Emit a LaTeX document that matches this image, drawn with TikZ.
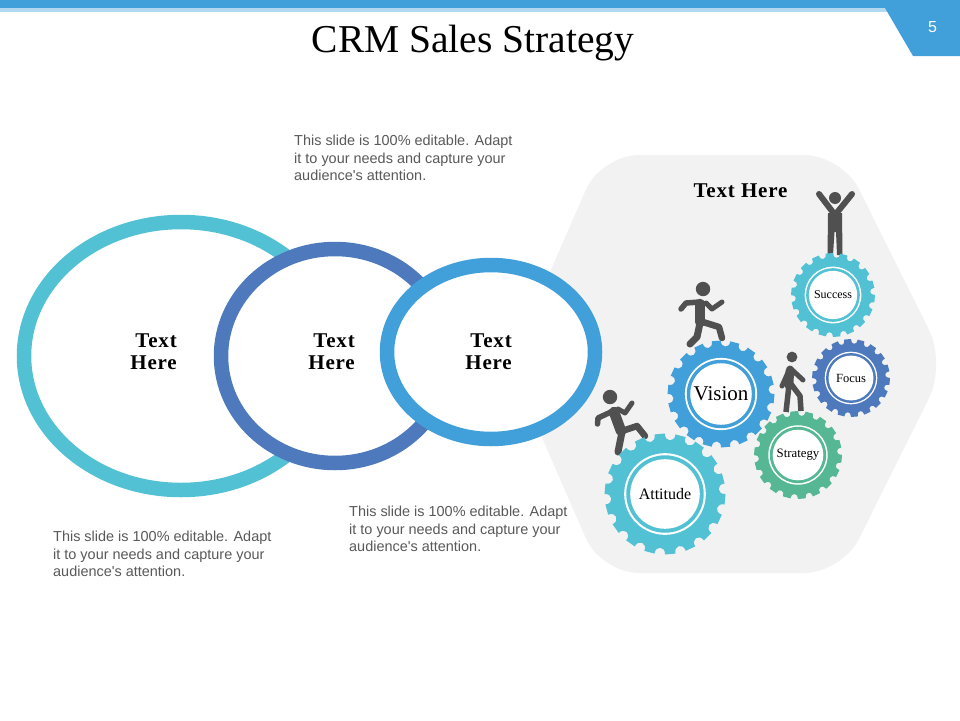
\documentclass[tikz,border=0pt]{standalone}
\usepackage{fontspec}
\setmainfont{Liberation Serif}
\newfontfamily\bodyfont{Liberation Sans}
\newfontfamily\wideboldfont[LetterSpace=4]{Liberation Serif Bold}
\definecolor{barblue}{HTML}{419FD9}
\definecolor{barlight}{HTML}{B3D9F0}
\definecolor{hexgrey}{HTML}{F2F2F2}
\definecolor{teal}{HTML}{53C1D4}
\definecolor{ringblue}{HTML}{4E7ABD}
\definecolor{green}{HTML}{56B795}
\definecolor{person}{HTML}{505050}
\definecolor{bodygrey}{HTML}{595959}
\tikzset{
  bodytext/.style={font=\bodyfont\fontsize{14.45}{17.5}\selectfont,text=bodygrey,align=left,anchor=north west,inner sep=0pt},
  ringtext/.style={font=\wideboldfont\fontsize{21}{22}\selectfont,align=right,anchor=east,inner sep=0pt},
  ringshape/.style={draw=#1,fill=white,line width=14.5pt},
  limb/.style={draw=person,line width=#1,line cap=round,line join=round},
  gearlabel/.style={inner sep=0pt,text=black}
}
\newcommand{\mygear}[5]{% cx cy R color fontsize
  \begin{scope}[shift={(#1,#2)}]
    \pgfmathsetmacro{\gR}{#3}
    \pgfmathsetmacro{\gD}{#3-max(6,0.14*#3)}
    \pgfmathsetmacro{\gP}{20}
    \fill[#4] (0.5*\gP:\gR)
      \foreach \i in {0,...,17} {
        .. controls ({(\i+0.47)*\gP}:\gD) and ({(\i+1.03)*\gP}:\gD) .. ({(\i+1)*\gP}:\gR)
        -- ({(\i+1.5)*\gP}:\gR)
      } -- cycle;
    \fill[white] (0,0) circle ({0.675*#3});
    \fill[#4] (0,0) circle ({0.64*#3});
    \fill[white] (0,0) circle ({0.575*#3});
  \end{scope}
  \node[gearlabel,font=\fontsize{#5}{#5}\selectfont] at (#1,#2) {\gearname};
}
\begin{document}
\begin{tikzpicture}[x=1pt,y=-1pt]
\useasboundingbox (0,0) rectangle (960,720);
\fill[white] (0,0) rectangle (960,720);
% header
\fill[barlight] (0,8) rectangle (890,11.5);
\fill[barblue] (0,0) rectangle (960,8);
\fill[barblue] (885,8) -- (913,56) -- (960,56) -- (960,0) -- (885,0) -- cycle;
\node[text=white,font=\bodyfont\fontsize{16}{16}\selectfont,inner sep=0pt] (num) at (932.5,27) {5};
\node[font=\fontsize{39.5}{39.5}\selectfont,inner sep=0pt] (title) at (473,43) {CRM Sales Strategy};
% hexagon
\fill[hexgrey,rounded corners=38pt] (601,155) -- (842,155) -- (946,364) -- (842,573) -- (601,573) -- (510,364) -- cycle;
% ellipses
\draw[ringshape=teal] (181,356) ellipse [x radius=157,y radius=134];
\draw[ringshape=ringblue] (335,356) ellipse [x radius=114,y radius=107];
\draw[ringshape=barblue] (491,352) ellipse [x radius=104,y radius=87];
\node[ringtext] (t1) at (177,352) {Text\\Here};
\node[ringtext] (t2) at (355,352) {Text\\Here};
\node[ringtext] (t3) at (512,352) {Text\\Here};
% body text
\node[bodytext] (b1) at (294,135) {This slide is 100\% editable. Adapt\\it to your needs and capture your\\audience's attention.};
\node[bodytext] (b2) at (349,506) {This slide is 100\% editable. Adapt\\it to your needs and capture your\\audience's attention.};
\node[bodytext] (b3) at (53,531) {This slide is 100\% editable. Adapt\\it to your needs and capture your\\audience's attention.};
\node[font=\wideboldfont\fontsize{21}{21}\selectfont,inner sep=0pt] (th) at (740.5,190.5) {Text Here};
% people
% attitude climber
\fill[person] (610,397) circle (7.2);
\draw[limb=5.5pt] (597.5,424) -- (598,418) -- (613,411);
\draw[limb=5pt] (618,409) -- (625,413) -- (632,403);
\draw[limb=10.5pt] (614,412) -- (621,431);
\draw[limb=7pt] (622,432) -- (618,452);
\draw[limb=6.5pt] (622,431) -- (637,426) -- (645,436);
% vision runner
\fill[person] (703,289) circle (7.2);
\draw[limb=5.5pt] (681,309) -- (686,303) -- (700,302);
\draw[limb=5pt] (706,303) -- (712,309) -- (722,302);
\draw[limb=10.5pt] (700,304) -- (700,322);
\draw[limb=7pt] (700,323) -- (697,337) -- (690,344);
\draw[limb=6.5pt] (703,322) -- (719,327) -- (722,338);
% strategy walker
\fill[person] (792,357) circle (5.4);
\draw[limb=5pt] (782,386) -- (790,368) -- (803,380);
\draw[limb=8.5pt] (790,370) -- (789,386);
\draw[limb=5.5pt,line cap=butt] (789,385) -- (786,412);
\draw[limb=5.5pt,line cap=butt] (791,384) -- (800,396) -- (801,411);
% success figure
\fill[person] (835,198) circle (6);
\draw[limb=6pt] (819,194) -- (835,215) -- (852,194);
\fill[person] (828,213) -- (842,213) -- (842.5,255) -- (837,255) -- (836,232) -- (834.5,232) -- (833,255) -- (827.5,255) -- cycle;
% gears
\def\gearname{Attitude}\mygear{665}{494}{60.5}{teal}{16}
\def\gearname{Vision}\mygear{721}{394}{53.5}{barblue}{21}
\def\gearname{Strategy}\mygear{798}{455}{44}{green}{12.8}
\def\gearname{Success}\mygear{833}{295}{42}{teal}{12}
\def\gearname{Focus}\mygear{851}{378}{39}{ringblue}{12.5}
\end{tikzpicture}
\end{document}
